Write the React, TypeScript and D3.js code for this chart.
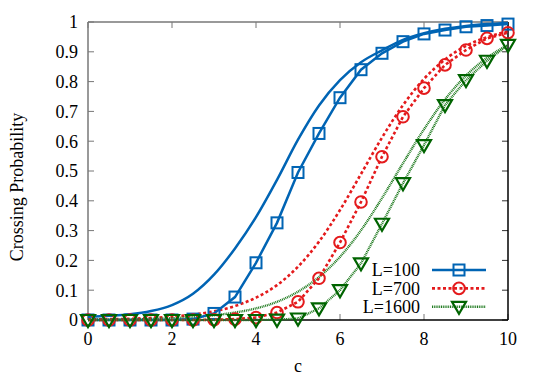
import React from 'react';
import * as d3 from 'd3';

// sample points (c)
const cValues = [0, 0.5, 1, 1.5, 2, 2.5, 3, 3.5, 4, 4.5, 5, 5.5, 6, 6.5, 7, 7.5, 8, 8.5, 9, 9.5, 10];

// measured crossing probability
const l100 = [0, 0, 0, 0, 0, 0.003, 0.022, 0.077, 0.192, 0.326, 0.495, 0.626, 0.746, 0.84, 0.895, 0.934, 0.96, 0.973, 0.984, 0.988, 0.993];
const l700 = [0, 0, 0, 0, 0, 0, 0.001, 0.003, 0.008, 0.025, 0.061, 0.14, 0.26, 0.396, 0.548, 0.682, 0.778, 0.856, 0.906, 0.945, 0.964];
const l1600 = [0, 0, 0, 0, 0, 0, 0, 0, 0, 0.001, 0.005, 0.039, 0.1, 0.19, 0.323, 0.459, 0.587, 0.721, 0.805, 0.87, 0.923];

// fitted curves
const fit100 = [0.011, 0.014, 0.019, 0.03, 0.05, 0.088, 0.152, 0.24, 0.345, 0.47, 0.605, 0.72, 0.805, 0.865, 0.905, 0.94, 0.962, 0.977, 0.987, 0.993, 0.997];
const fit700 = [0.002, 0.003, 0.004, 0.007, 0.011, 0.018, 0.029, 0.047, 0.075, 0.117, 0.179, 0.263, 0.369, 0.49, 0.612, 0.721, 0.809, 0.874, 0.92, 0.949, 0.969];
const fit1600 = [0.001, 0.002, 0.002, 0.004, 0.006, 0.01, 0.016, 0.025, 0.039, 0.061, 0.095, 0.144, 0.212, 0.301, 0.409, 0.526, 0.64, 0.74, 0.82, 0.88, 0.923];

const xTicks = [0, 2, 4, 6, 8, 10];
const yTicks = [0, 0.1, 0.2, 0.3, 0.4, 0.5, 0.6, 0.7, 0.8, 0.9, 1];
const legendLabels = ['L=100', 'L=700', 'L=1600'];

const W = 540;
const H = 378;
const margin = { top: 22, right: 32, bottom: 58, left: 88 };
const FONT = '"Liberation Serif", "DejaVu Serif", serif';

const BLUE = '#0064b4';
const RED = '#e41a1c';
const GREEN = '#1f7a1f';
const DKGREEN = '#006400';

function Marker({ kind, x, y, color }: { kind: string; x: number; y: number; color: string }) {
  if (kind === 'square') {
    return <rect x={x - 5.5} y={y - 5.5} width={11} height={11} fill="none" stroke={color} strokeWidth={2} />;
  }
  if (kind === 'circle') {
    return <circle cx={x} cy={y} r={5.8} fill="none" stroke={color} strokeWidth={2} />;
  }
  return (
    <path
      d={`M${x - 7},${y - 5} L${x + 7},${y - 5} L${x},${y + 7} Z`}
      fill="none"
      stroke={color}
      strokeWidth={2.2}
      strokeLinejoin="miter"
    />
  );
}

export default function App() {
  const x = d3.scaleLinear().domain([0, 10]).range([margin.left, W - margin.right]);
  const y = d3.scaleLinear().domain([0, 1]).range([H - margin.bottom, margin.top]);

  const lineLin = d3
    .line<number>()
    .x((_, i) => x(cValues[i]))
    .y((d) => y(d));
  const lineSmooth = d3
    .line<number>()
    .x((_, i) => x(cValues[i]))
    .y((d) => y(d))
    .curve(d3.curveMonotoneX);

  const series = [
    { data: l100, fit: fit100, color: BLUE, mcolor: BLUE, dash: undefined, width: 2.5, kind: 'square' },
    { data: l700, fit: fit700, color: RED, mcolor: RED, dash: '3 2.5', width: 2.6, kind: 'circle' },
    { data: l1600, fit: fit1600, color: GREEN, mcolor: DKGREEN, dash: '1 0.8', width: 2.4, kind: 'triangle' },
  ];

  const [x0, x1] = x.range();
  const [y0, y1] = y.range();
  const tickLen = 6;

  return (
    <svg width={W} height={H} style={{ position: 'absolute', left: 0, top: 0, background: '#fff' }} fontFamily={FONT}>
      <rect x={0} y={0} width={W} height={H} fill="#fff" />

      {/* ticks */}
      {xTicks.map((t) => (
        <g key={'xt' + t}>
          <line x1={x(t)} x2={x(t)} y1={y0} y2={y0 - tickLen} stroke="#777" strokeWidth={1} />
          <line x1={x(t)} x2={x(t)} y1={y1} y2={y1 + tickLen} stroke="#777" strokeWidth={1} />
          <text x={x(t)} y={y0 + 25} textAnchor="middle" fontSize={18} fill="#000">
            {t}
          </text>
        </g>
      ))}
      {yTicks.map((t) => (
        <g key={'yt' + t}>
          <line x1={x0} x2={x0 + tickLen} y1={y(t)} y2={y(t)} stroke="#777" strokeWidth={1} />
          <line x1={x1} x2={x1 - tickLen} y1={y(t)} y2={y(t)} stroke="#333" strokeWidth={1} />
          <text x={78} y={y(t)} dy="0.35em" textAnchor="end" fontSize={18} fill="#000">
            {t}
          </text>
        </g>
      ))}

      {/* border */}
      <line x1={x0} x2={x1} y1={y1} y2={y1} stroke="#777" strokeWidth={1.5} />
      <line x1={x0} x2={x0} y1={y1} y2={y0} stroke="#777" strokeWidth={1.5} />
      <line x1={x1} x2={x1} y1={y1} y2={y0} stroke="#000" strokeWidth={1.5} />
      <line x1={x0} x2={x1} y1={y0} y2={y0} stroke="#000" strokeWidth={1.5} />

      {/* fitted curves */}
      {series.map((s, i) => (
        <path key={'f' + i} d={lineSmooth(s.fit) || ''} fill="none" stroke={s.color} strokeWidth={s.width} strokeDasharray={s.dash} />
      ))}

      {/* data lines and markers */}
      {series.map((s, i) => (
        <g key={'d' + i}>
          <path d={lineLin(s.data) || ''} fill="none" stroke={s.color} strokeWidth={s.width} strokeDasharray={s.dash} />
          {s.data.map((v, j) => (
            <Marker key={j} kind={s.kind} x={x(cValues[j])} y={y(v)} color={s.mcolor} />
          ))}
        </g>
      ))}

      {/* legend */}
      {series.map((s, i) => {
        const ly = 270 + i * 18.4;
        return (
          <g key={'lg' + i}>
            <text x={420} y={ly} dy="0.35em" textAnchor="end" fontSize={18} fill="#000">
              {legendLabels[i]}
            </text>
            <line x1={432} x2={486} y1={ly} y2={ly} stroke={s.color} strokeWidth={s.width} strokeDasharray={s.dash} />
            <Marker kind={s.kind} x={459} y={ly} color={s.mcolor} />
          </g>
        );
      })}

      {/* axis titles */}
      <text x={(x0 + x1) / 2} y={372} textAnchor="middle" fontSize={18} fill="#000">
        c
      </text>
      <text transform={`translate(23,187) rotate(-90)`} textAnchor="middle" fontSize={18} fill="#000">
        Crossing Probability
      </text>
    </svg>
  );
}
